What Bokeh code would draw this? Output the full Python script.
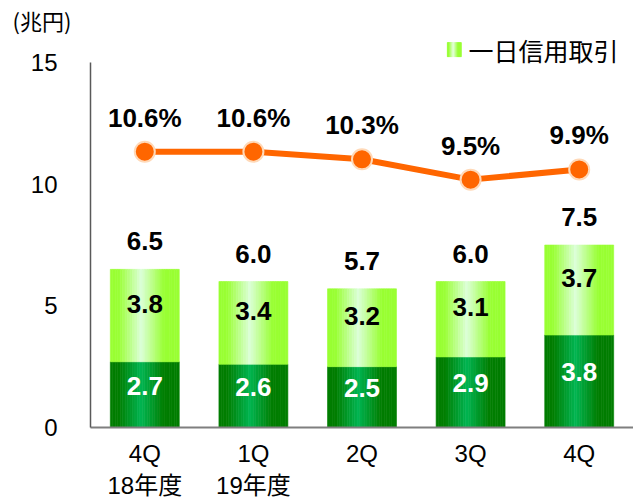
import numpy as np
from bokeh.plotting import figure
from bokeh.models import ColumnDataSource, Range1d, FixedTicker
from bokeh.core.properties import value
from bokeh.embed import file_html
from bokeh.resources import INLINE

# ---------------- data ----------------
quarters = ["4Q\n18年度", "1Q\n19年度", "2Q", "3Q", "4Q"]
other_trading = [2.7, 2.6, 2.5, 2.9, 3.8]      # dark green segment
day_margin = [3.8, 3.4, 3.2, 3.1, 3.7]         # 一日信用取引 (light green)
totals = [6.5, 6.0, 5.7, 6.0, 7.5]
day_margin_ratio = [10.6, 10.6, 10.3, 9.5, 9.9]  # %
y_ticks = [0, 5, 10, 15]
legend_label = "一日信用取引"
unit_label = "(兆円)"

# ---------------- styling helpers ----------------
LATIN = "Liberation Sans, Noto Sans CJK JP"
CJK = "Noto Sans CJK JP"
BAR_W = 0.635
N_STRIPS = 28


def hex2rgb(h):
    return tuple(int(h[i:i + 2], 16) for i in (1, 3, 5))


def lerp(c1, c2, t):
    a, b = hex2rgb(c1), hex2rgb(c2)
    return "#%02x%02x%02x" % tuple(int(round(a[i] + (b[i] - a[i]) * t)) for i in range(3))


def profile(f):
    return max(0.0, 1.0 - abs(f - 0.45) / 0.33)


def strip_source(xs, bottoms, tops, edge, center, width):
    rows = dict(x=[], bottom=[], top=[], color=[])
    for x, b, t in zip(xs, bottoms, tops):
        for k in range(N_STRIPS):
            f = (k + 0.5) / N_STRIPS
            rows["x"].append(x - width / 2 + f * width)
            rows["bottom"].append(b)
            rows["top"].append(t)
            rows["color"].append(lerp(edge, center, profile(f)))
    return ColumnDataSource(rows), width / N_STRIPS


xs = list(range(len(quarters)))
dark_top = other_trading
light_top = [a + b for a, b in zip(other_trading, day_margin)]

Y_MAX = 16.07
p = figure(frame_width=543, frame_height=391, x_range=Range1d(-0.5, len(quarters) - 0.5),
           y_range=Range1d(0, Y_MAX), output_backend="svg", toolbar_location=None,
           min_border_left=90, min_border_right=0, min_border_top=34, min_border_bottom=75,
           title=unit_label)
p.extra_y_ranges = {"pct": Range1d(-0.25, 15.13)}
p.outline_line_color = None
p.xgrid.visible = False
p.ygrid.visible = False
p.background_fill_color = "white"

p.title.text_font = CJK
p.title.text_font_size = "22px"
p.title.text_font_style = "normal"
p.title.text_color = "black"
p.title.align = "left"
p.title.offset = -78
p.title.standoff = 2

# bars with horizontal gradient (thin strips)
src_d, sw = strip_source(xs, [0] * len(xs), dark_top, "#007d00", "#00b552", BAR_W)
p.vbar(x="x", bottom="bottom", top="top", width=sw, source=src_d,
       fill_color="color", line_color="color", line_width=0.6)
src_l, sw = strip_source(xs, dark_top, light_top, "#99ff33", "#dcffd8", BAR_W)
p.vbar(x="x", bottom="bottom", top="top", width=sw, source=src_l,
       fill_color="color", line_color="color", line_width=0.6)

# labels
seg = ColumnDataSource(dict(
    x=xs,
    yd=[t / 2 for t in dark_top],
    yl=[(a + b) / 2 for a, b in zip(dark_top, light_top)],
    td=["%.1f" % v for v in other_trading],
    tl=["%.1f" % v for v in day_margin],
    yt=totals,
    tt=["%.1f" % v for v in totals],
    r=day_margin_ratio,
    rt=["%.1f%%" % v for v in day_margin_ratio],
))
common = dict(text_font=value("Liberation Sans"), text_font_size="26px", text_font_style="bold",
              text_align="center", text_baseline="middle")
p.text(x="x", y="yd", text="td", source=seg, text_color="white", y_offset=-9, **common)
p.text(x="x", y="yl", text="tl", source=seg, text_color="black", y_offset=-12, **common)
p.text(x="x", y="yt", text="tt", source=seg, text_color="black", y_offset=-28, **common)

# ratio line
p.line(x="x", y="r", source=seg, y_range_name="pct", line_color="#ff6600", line_width=6)
p.scatter(x="x", y="r", source=seg, y_range_name="pct", size=20, fill_color="#ff6600",
          line_color="#ffd9b8", line_width=2)
p.text(x="x", y="r", text="rt", source=seg, y_range_name="pct", text_color="black",
       y_offset=-34, **common)

# axes
p.yaxis.ticker = FixedTicker(ticks=y_ticks)
p.yaxis.bounds = (0, 15)
p.yaxis.axis_line_color = "#595959"
p.yaxis.axis_line_width = 1.5
p.yaxis.major_tick_line_color = None
p.yaxis.minor_tick_line_color = None
p.yaxis.major_tick_out = 0
p.yaxis.major_label_standoff = 33
p.yaxis.major_label_text_font = LATIN
p.yaxis.major_label_text_font_size = "24px"
p.yaxis.major_label_text_color = "black"

p.xaxis.ticker = FixedTicker(ticks=xs)
p.xaxis.major_label_overrides = {i: q for i, q in zip(xs, quarters)}
p.xaxis.axis_line_color = "#7f7f7f"
p.xaxis.axis_line_width = 2
p.xaxis.major_tick_line_color = None
p.xaxis.minor_tick_line_color = None
p.xaxis.major_tick_out = 0
p.xaxis.major_label_standoff = 12
p.xaxis.major_label_text_font = LATIN
p.xaxis.major_label_text_font_size = "24px"
p.xaxis.major_label_text_color = "black"

# legend (manual)
LEG_X, LEG_Y, LEG_W, LEG_H = 2.85, 15.53, 0.129, 0.58
src_g, sw = strip_source([LEG_X], [LEG_Y - LEG_H / 2], [LEG_Y + LEG_H / 2],
                         "#99ff33", "#e6ffe0", LEG_W)
p.vbar(x="x", bottom="bottom", top="top", width=sw, source=src_g,
       fill_color="color", line_color="color", line_width=0.6)
p.text(x=[LEG_X + 0.13], y=[LEG_Y], text=[legend_label], text_font=value(CJK),
       text_font_size="25px", text_baseline="middle", text_align="left", text_color="black")

open("out.html", "w").write(file_html(p, INLINE))
